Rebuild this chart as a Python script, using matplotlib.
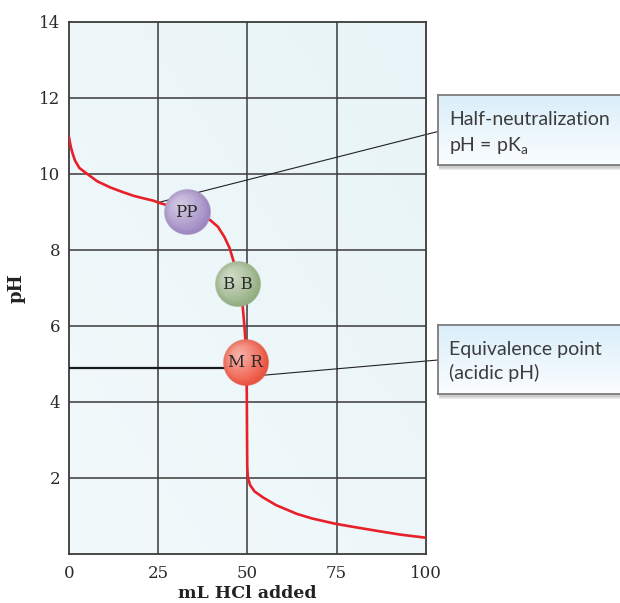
import numpy as np
import matplotlib.pyplot as plt
from matplotlib.patches import Rectangle
from matplotlib.colors import to_rgb

plt.rcParams['mathtext.fontset'] = 'custom'
plt.rcParams['mathtext.rm'] = 'Lato'

# titration curve
ml_added = [0, 0.3, 0.6, 1.2, 1.8, 3, 5.1, 8, 11.6, 15, 18.1, 21, 23.7, 25.1, 29,
            33, 36.5, 39.6, 41.8, 43.6, 45.0, 46.1, 47.1, 48.0, 48.7, 49.2, 49.5,
            49.7, 49.85, 49.92, 49.97, 50.15, 50.8, 52, 54.4, 58, 63.8, 68,
            74.5, 80, 87, 93, 100]
ph = [11.0, 10.85, 10.7, 10.5, 10.34, 10.15, 10.0, 9.8, 9.64, 9.52, 9.42, 9.35,
      9.29, 9.24, 9.13, 9.0, 8.9, 8.78, 8.6, 8.33, 8.05, 7.71, 7.3, 6.9, 6.5,
      5.96, 5.56, 5.1, 4.2, 3.0, 2.3, 2.0, 1.8, 1.64, 1.48, 1.28, 1.05, 0.93,
      0.79, 0.7, 0.59, 0.5, 0.42]

x_ticks = [0, 25, 50, 75, 100]
y_ticks = [2, 4, 6, 8, 10, 12, 14]

# indicators (phenolphthalein, bromothymol blue, methyl red)
ind_labels = ['PP', 'B B', 'M R']
ind_ml = [33.0, 47.3, 49.5]
ind_ph = [8.98, 7.09, 5.03]
ind_colors = ['#a28cc4', '#98b286', '#ee5844']

half_point = (25, 9.24)
equiv_point = (50, 4.66)
mr_level = 4.89

W, H = 620, 603
fig = plt.figure(figsize=(W / 100, H / 100), dpi=100)
ax_l, ax_r, ax_t, ax_b = 68.7, 426, 21.7, 553.7
ax = fig.add_axes([ax_l / W, 1 - ax_b / H, (ax_r - ax_l) / W, (ax_b - ax_t) / H])
ax.set_xlim(0, 100)
ax.set_ylim(0, 14)

# pale blue background
gx, gy = np.meshgrid(np.linspace(0, 1, 200), np.linspace(0, 1, 200))
g = (gx + (1 - gy)) / 2
c1, c2 = np.array(to_rgb('#f2f9fb')), np.array(to_rgb('#e8f4f7'))
bg = c1[None, None, :] * (1 - g[..., None]) + c2[None, None, :] * g[..., None]
ax.imshow(bg, extent=[0, 100, 0, 14], aspect='auto', origin='upper', zorder=0)

grid_col = '#3a3a3a'
for xv in x_ticks[1:-1]:
    ax.axvline(xv, color=grid_col, lw=1.1, zorder=1)
for yv in y_ticks[:-1]:
    ax.axhline(yv, color=grid_col, lw=1.1, zorder=1)
for s in ax.spines.values():
    s.set_color(grid_col)
    s.set_linewidth(1.3)

ax.set_xticks(x_ticks)
ax.set_yticks(y_ticks)
ax.tick_params(length=0, labelsize=12, colors='#2a2a2a')
ax.tick_params(axis='x', pad=8)
ax.tick_params(axis='y', pad=6)
for lab in ax.get_xticklabels() + ax.get_yticklabels():
    lab.set_fontfamily('DejaVu Serif')

ax.set_xlabel('mL HCl added', fontfamily='DejaVu Serif', fontweight='bold',
              fontsize=12.5, color='#222222', labelpad=2)
ax.set_ylabel('pH', fontfamily='DejaVu Serif', fontweight='bold',
              fontsize=13, color='#222222', labelpad=10)

ax.plot(ml_added, ph, color='#e8202a', lw=1.9, zorder=3, solid_capstyle='butt')
ax.plot([0, ind_ml[2] - 3], [mr_level, mr_level], color='#1a1a1a', lw=1.6, zorder=3)

# callout lines
box_x = 438 / W
ax.annotate('', xy=half_point, xycoords='data', xytext=(box_x, 1 - 131.5 / H),
            textcoords='figure fraction', annotation_clip=False, zorder=2,
            arrowprops=dict(arrowstyle='-', shrinkA=0, shrinkB=0, lw=0.8, color='#222222'))
ax.annotate('', xy=equiv_point, xycoords='data', xytext=(box_x, 1 - 360 / H),
            textcoords='figure fraction', annotation_clip=False, zorder=2,
            arrowprops=dict(arrowstyle='-', shrinkA=0, shrinkB=0, lw=0.8, color='#222222'))

# shaded indicator balls
px_x = (ax_r - ax_l) / 100
px_y = (ax_b - ax_t) / 14
n = 160
u, v = np.meshgrid(np.linspace(-1, 1, n), np.linspace(1, -1, n))
rr = np.sqrt(u ** 2 + v ** 2)
hl = np.sqrt((u + 0.3) ** 2 + (v - 0.3) ** 2)
for lab, mx, my, col in zip(ind_labels, ind_ml, ind_ph, ind_colors):
    r = 23
    base = np.array(to_rgb(col))
    light = base + (1 - base) * 0.55
    dark = base * 0.9
    t = np.clip(hl / 1.25, 0, 1)[..., None]
    rgb = light * (1 - t) + base * t
    edge = np.clip((rr - 0.75) / 0.25, 0, 1)[..., None]
    rgb = rgb * (1 - edge * 0.4) + dark * edge * 0.4
    alpha = np.clip((1 - rr) * n / 2, 0, 1)
    img = np.dstack([rgb, alpha])
    ax.imshow(img, extent=[mx - r / px_x, mx + r / px_x, my - r / px_y, my + r / px_y],
              aspect='auto', zorder=4, interpolation='bilinear')
    ax.text(mx, my, lab, ha='center', va='center', fontfamily='DejaVu Serif',
            fontsize=12, color='#2a2a2a', zorder=5)
ax.set_xlim(0, 100)
ax.set_ylim(0, 14)


def callout(top, bottom, lines):
    y0 = 1 - bottom / H
    h = (bottom - top) / H
    for k, a in enumerate([0.05, 0.06, 0.07, 0.08]):
        off = (k + 1) * 1.3
        fig.patches.append(Rectangle((box_x + 1 / W, y0 - off / H), 0.4, h,
                                     transform=fig.transFigure, facecolor='#000000',
                                     alpha=a, edgecolor='none', zorder=0))
    bax = fig.add_axes([box_x, y0, 0.4, h])
    bax.set_zorder(3)
    grad = np.linspace(0, 1, 100)[:, None]
    top_c, bot_c = np.array(to_rgb('#daeef9')), np.array(to_rgb('#fbfdff'))
    gimg = top_c[None, None, :] * (1 - grad[..., None]) + bot_c[None, None, :] * grad[..., None]
    bax.imshow(np.repeat(gimg, 2, axis=1), aspect='auto', extent=[0, 1, 0, 1])
    bax.set_xticks([])
    bax.set_yticks([])
    for s in bax.spines.values():
        s.set_color('#7c7c7c')
        s.set_linewidth(1.3)
    for txt, base_y in lines:
        t = fig.text(449 / W, 1 - base_y / H, txt, fontfamily='Lato', fontsize=14,
                     color='#3c3c3c', va='baseline', ha='left')
        t.set_zorder(6)


callout(95, 165, [('Half-neutralization', 125), ('pH = pK$_{\\mathrm{a}}$', 152)])
callout(325, 394, [('Equivalence point', 355), ('(acidic pH)', 379)])

fig.savefig('out.png', dpi=100)
